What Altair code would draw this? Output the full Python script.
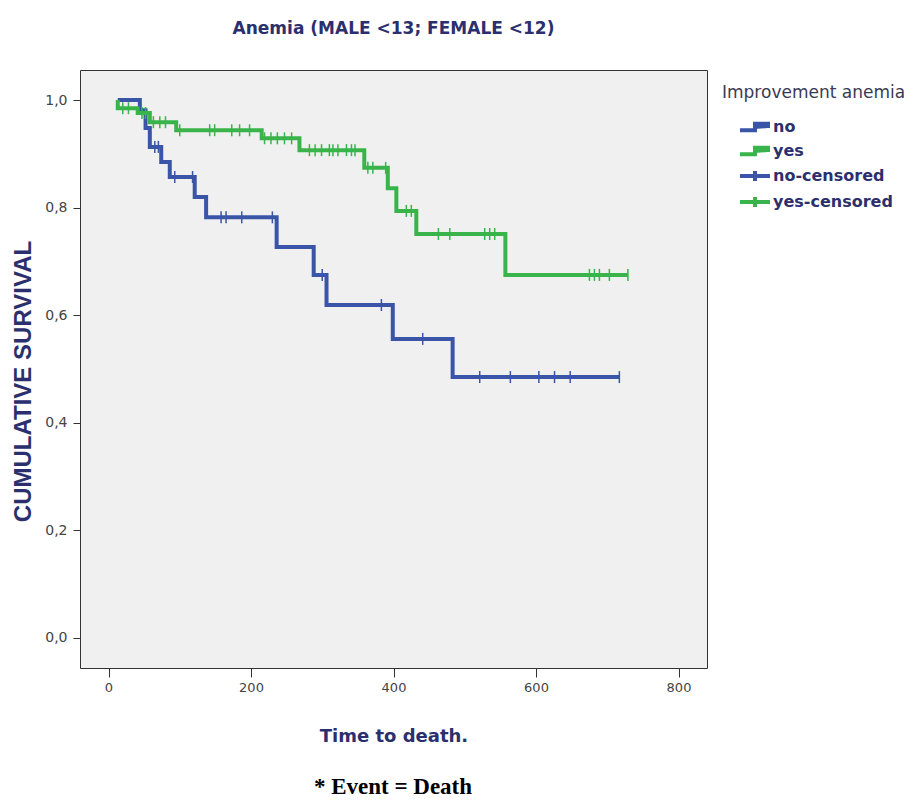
import altair as alt
import pandas as pd

# ---- data ----
series_names = ["no", "yes", "no-censored", "yes-censored"]

no_t = [13, 44, 52, 58, 74, 86, 121, 137, 236, 288, 306, 399, 483, 717]
no_s = [1.0, 0.981, 0.948, 0.913, 0.885, 0.857, 0.820, 0.782, 0.727, 0.675, 0.619, 0.556, 0.485, 0.485]

yes_t = [13, 13, 41, 58, 95, 215, 268, 359, 392, 404, 432, 557, 729]
yes_s = [1.0, 0.985, 0.976, 0.959, 0.944, 0.929, 0.907, 0.874, 0.836, 0.794, 0.751, 0.675, 0.675]

no_cens_t = [65, 70, 93, 118, 158, 165, 187, 230, 300, 383, 441, 521, 564, 604, 626, 648, 717]
no_cens_s = [0.913, 0.913, 0.857, 0.857, 0.782, 0.782, 0.782, 0.782, 0.675, 0.619, 0.556,
             0.485, 0.485, 0.485, 0.485, 0.485, 0.485]

yes_cens_t = [20, 28, 47, 52, 63, 72, 80, 100, 142, 149, 173, 184, 198, 219, 228, 237, 247, 257,
              282, 290, 299, 310, 315, 322, 334, 341, 346, 364, 371, 389, 418, 425,
              463, 479, 528, 535, 542, 675, 682, 689, 703, 729]
yes_cens_s = [0.985, 0.985, 0.976, 0.976, 0.959, 0.959, 0.959, 0.944, 0.944, 0.944, 0.944, 0.944, 0.944,
              0.929, 0.929, 0.929, 0.929, 0.929,
              0.907, 0.907, 0.907, 0.907, 0.907, 0.907, 0.907, 0.907, 0.907, 0.874, 0.874, 0.874,
              0.794, 0.794, 0.751, 0.751, 0.751, 0.751, 0.751, 0.675, 0.675, 0.675, 0.675, 0.675]

x_ticks = [0, 200, 400, 600, 800]
y_ticks = [0.0, 0.2, 0.4, 0.6, 0.8, 1.0]
footer_text = ["* Event = Death"]

# ---- tables ----
rows = []
for i, (t, s) in enumerate(zip(no_t, no_s)):
    rows.append({"t": t, "s": s, "series": "no", "ord": i})
for i, (t, s) in enumerate(zip(yes_t, yes_s)):
    rows.append({"t": t, "s": s, "series": "yes", "ord": i})
lines_df = pd.DataFrame(rows)

crow = []
for t, s in zip(no_cens_t, no_cens_s):
    crow.append({"t": t, "s": s, "series": "no-censored"})
for t, s in zip(yes_cens_t, yes_cens_s):
    crow.append({"t": t, "s": s, "series": "yes-censored"})
cens_df = pd.DataFrame(crow)

BLUE = "#3a55a8"
GREEN = "#38b44a"
NAVY = "#2c2f6e"
SANS = "DejaVu Sans"

step_path = "M-1.5,0.33L0,0.33L0,-0.33L1.3,-0.33L1.3,0.1"
cross_path = "M-1.5,0L1.5,0M0,-0.5L0,0.5"

color_scale = alt.Scale(domain=series_names, range=[BLUE, GREEN, BLUE, GREEN])
shape_scale = alt.Scale(domain=series_names, range=[step_path, step_path, cross_path, cross_path])
sw_scale = alt.Scale(domain=series_names, range=[4, 4, 1.2, 1.2])

xs = alt.Scale(domain=[-40, 840], nice=False, zero=False)
ys = alt.Scale(domain=[-0.056, 1.056], nice=False, zero=False)

x_axis = alt.Axis(values=x_ticks, title="Time to death.", grid=False, domain=False,
                  tickSize=9, tickColor="#333333", labelFontSize=13, labelColor="#444444",
                  labelFont=SANS, labelPadding=4,
                  titleFont=SANS, titleFontSize=18, titleFontWeight="bold",
                  titleColor=NAVY, titlePadding=33)
y_axis = alt.Axis(values=y_ticks, title="CUMULATIVE SURVIVAL", grid=False, domain=False,
                  tickSize=7, tickColor="#333333", labelFontSize=14, labelColor="#444444",
                  labelFont=SANS, labelPadding=6,
                  labelExpr="replace(format(datum.value, '.1f'), '.', ',')",
                  titleFont="Liberation Sans", titleFontSize=24, titleFontWeight="bold",
                  titleColor=NAVY, titlePadding=9, titleY=311)

legend = alt.Legend(title="Improvement anemia", orient="none", legendX=642, legendY=15,
                    titleFont=SANS, titleFontSize=17, titleFontWeight="normal",
                    titleColor="#3a3a55", titlePadding=13, titleLimit=400,
                    labelFont=SANS, labelFontSize=16, labelFontWeight="bold", labelLimit=400,
                    labelColor=NAVY, labelOffset=6, symbolOffset=21, symbolSize=400,
                    rowPadding=0, padding=0)

base_x = alt.X("t:Q", scale=xs, axis=x_axis)
base_y = alt.Y("s:Q", scale=ys, axis=y_axis)

lines = alt.Chart(lines_df).mark_line(interpolate="step-after", strokeWidth=4).encode(
    x=base_x, y=base_y,
    color=alt.Color("series:N", scale=color_scale, legend=legend),
    order="ord:Q",
    detail="series:N",
)

ticks = alt.Chart(cens_df).mark_tick(orient="vertical", size=12, thickness=1.5, opacity=1).encode(
    x=base_x, y=base_y,
    color=alt.Color("series:N", scale=color_scale, legend=legend),
)

legend_layer = alt.Chart(cens_df).transform_filter("datum.t < -100000").mark_point(
    opacity=1, filled=False).encode(
    x=base_x, y=base_y,
    color=alt.Color("series:N", scale=color_scale, legend=legend),
    shape=alt.Shape("series:N", scale=shape_scale, legend=legend),
    strokeWidth=alt.StrokeWidth("series:N", scale=sw_scale, legend=legend),
)

footer = alt.Chart(pd.DataFrame({"txt": footer_text})).mark_text(
    font="Liberation Serif", fontSize=23, fontWeight="bold", color="#000000",
    align="center", baseline="alphabetic").encode(
    text="txt:N", x=alt.value(313), y=alt.value(724))

chart = alt.layer(legend_layer, lines, ticks, footer).properties(
    width=627, height=598,
    title=alt.Title("Anemia (MALE <13; FEMALE <12)", font=SANS, fontSize=17,
                    fontWeight="bold", color=NAVY, anchor="middle", offset=32),
    autosize=alt.AutoSizeParams(type="none"),
    padding={"left": 72, "top": 62, "right": 197, "bottom": 131},
).configure_view(fill="#F0F0F0", stroke="#333333", strokeWidth=1)

chart.save("out.html", embed_options={"renderer": "svg", "actions": False})
